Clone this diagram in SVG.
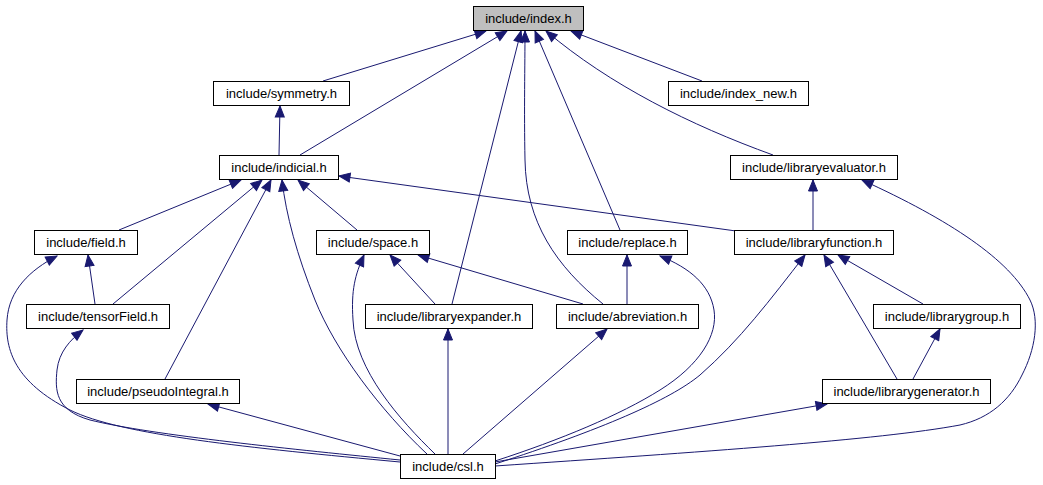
<svg xmlns="http://www.w3.org/2000/svg" width="1043" height="485" viewBox="0 0 1043 485">
<style>
.n rect{fill:#fff;stroke:#000;stroke-width:1}
.n.root rect{fill:#bfbfbf}
.n text{font-family:"Liberation Sans",Arial,sans-serif;font-size:13px;fill:#000;text-anchor:middle}
.e path{fill:none;stroke:#191970;stroke-width:1;marker-end:url(#ah)}
</style>
<defs>
<marker id="ah" markerUnits="userSpaceOnUse" viewBox="-1 -1 13 11" markerWidth="13" markerHeight="11" refX="11" refY="4.5" orient="auto">
<path d="M0,0 L11,4.5 L0,9 z" fill="#191970" stroke="#191970" stroke-width="1"/>
</marker>
</defs>
<rect width="1043" height="485" fill="#fff"/>
<g id="edges" class="e">
<path d="M323,81 L486,31"/>
<path d="M300,155 L507,31"/>
<path d="M452,304 L521,31"/>
<path d="M603,304 C556,266 526,222 525,160 C524,110 525,65 525,31"/>
<path d="M620,230 L535,31"/>
<path d="M773,155 C690,125 610,85 546,31"/>
<path d="M702,81 L571,31"/>
<path d="M279,155 L280,106"/>
<path d="M119,230 L241,180"/>
<path d="M113,304 L262,180"/>
<path d="M165,379 L271,180"/>
<path d="M427,454 C380,410 335,350 315,300 C297,255 286,215 282,180"/>
<path d="M357,230 L298,180"/>
<path d="M736,231 L339,176"/>
<path d="M95,304 L88,255"/>
<path d="M400,462 C250,448 120,435 70,410 C15,382 5,350 7,320 C9,290 30,270 57,256"/>
<path d="M400,460 C300,450 150,435 90,420 C55,410 55,390 57,370 C59,352 70,340 83,330"/>
<path d="M435,304 L390,255"/>
<path d="M583,304 L418,255"/>
<path d="M435,454 C400,420 355,370 353,320 C351,290 355,275 364,255"/>
<path d="M627,304 L627,255"/>
<path d="M495,461 C560,440 620,415 660,390 C700,365 718,335 714,310 C710,285 690,268 660,256"/>
<path d="M448,454 L448,329"/>
<path d="M463,454 L607,329"/>
<path d="M813,230 L813,180"/>
<path d="M495,466 C700,452 880,440 960,425 C990,418 1010,400 1022,375 C1035,350 1040,320 1030,300 C1010,260 950,220 862,180"/>
<path d="M495,464 C600,430 670,400 700,375 C740,340 770,300 805,255"/>
<path d="M923,304 L838,255"/>
<path d="M897,379 L824,255"/>
<path d="M913,379 L940,329"/>
<path d="M495,462 L827,404"/>
<path d="M400,456 L208,404"/>
</g>
<g id="node-index" class="n root"><rect x="473.5" y="6.5" width="110" height="24"/><text x="528.5" y="23">include/index.h</text></g>
<g id="node-symmetry" class="n"><rect x="213.5" y="81.5" width="136" height="24"/><text x="281.5" y="98">include/symmetry.h</text></g>
<g id="node-index_new" class="n"><rect x="668.5" y="81.5" width="140" height="24"/><text x="738.5" y="98">include/index_new.h</text></g>
<g id="node-indicial" class="n"><rect x="219.5" y="155.5" width="119" height="24"/><text x="279" y="172">include/indicial.h</text></g>
<g id="node-libraryevaluator" class="n"><rect x="730.5" y="155.5" width="167" height="24"/><text x="814" y="172">include/libraryevaluator.h</text></g>
<g id="node-field" class="n"><rect x="34.5" y="230.5" width="103" height="24"/><text x="86" y="247">include/field.h</text></g>
<g id="node-space" class="n"><rect x="316.5" y="230.5" width="113" height="24"/><text x="373" y="247">include/space.h</text></g>
<g id="node-replace" class="n"><rect x="567.5" y="230.5" width="120" height="24"/><text x="627.5" y="247">include/replace.h</text></g>
<g id="node-libraryfunction" class="n"><rect x="734.5" y="230.5" width="159" height="24"/><text x="814" y="247">include/libraryfunction.h</text></g>
<g id="node-tensorField" class="n"><rect x="26.5" y="304.5" width="143" height="24"/><text x="98" y="321">include/tensorField.h</text></g>
<g id="node-libraryexpander" class="n"><rect x="365.5" y="304.5" width="167" height="24"/><text x="449" y="321">include/libraryexpander.h</text></g>
<g id="node-abreviation" class="n"><rect x="556.5" y="304.5" width="142" height="24"/><text x="627.5" y="321">include/abreviation.h</text></g>
<g id="node-librarygroup" class="n"><rect x="873.5" y="304.5" width="147" height="24"/><text x="947" y="321">include/librarygroup.h</text></g>
<g id="node-pseudoIntegral" class="n"><rect x="76.5" y="379.5" width="163" height="24"/><text x="158" y="396">include/pseudoIntegral.h</text></g>
<g id="node-librarygenerator" class="n"><rect x="822.5" y="379.5" width="168" height="24"/><text x="906.5" y="396">include/librarygenerator.h</text></g>
<g id="node-csl" class="n"><rect x="400.5" y="454.5" width="95" height="24"/><text x="448" y="471">include/csl.h</text></g>
</svg>
